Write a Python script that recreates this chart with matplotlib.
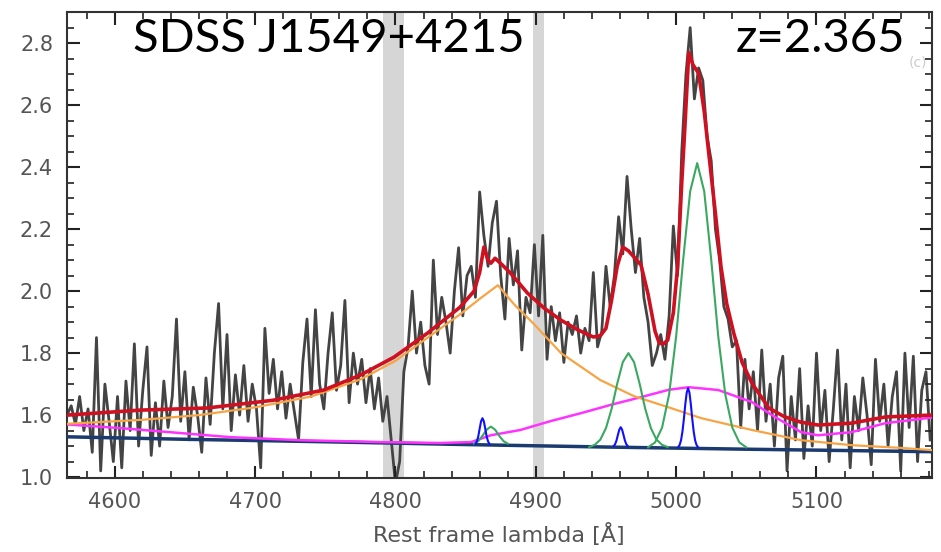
import matplotlib
matplotlib.use("Agg")
import matplotlib.pyplot as plt
import numpy as np
from matplotlib.ticker import MultipleLocator

# observed spectrum, 3 A grid from 4566 A
spec_start, spec_step = 4566, 3
spec_flux = [
    1.60, 1.63, 1.57, 1.66, 1.55, 1.62, 1.48, 1.85, 1.42, 1.70,
    1.58, 1.45, 1.66, 1.43, 1.71, 1.55, 1.83, 1.50, 1.68, 1.82,
    1.47, 1.64, 1.50, 1.71, 1.56, 1.66, 1.91, 1.58, 1.74, 1.52,
    1.69, 1.60, 1.48, 1.72, 1.57, 1.80, 1.96, 1.62, 1.86, 1.55,
    1.73, 1.60, 1.76, 1.58, 1.70, 1.62, 1.43, 1.88, 1.67, 1.78,
    1.62, 1.74, 1.59, 1.70, 1.61, 1.52, 1.77, 1.91, 1.66, 1.94,
    1.70, 1.62, 1.80, 1.93, 1.68, 1.76, 1.97, 1.64, 1.80, 1.70,
    1.78, 1.64, 1.75, 1.62, 1.72, 1.58, 1.66, 1.52, 1.38, 1.45,
    1.74, 1.82, 2.00, 1.80, 1.90, 1.76, 1.70, 2.10, 1.86, 1.98,
    1.90, 1.80, 2.00, 2.14, 1.92, 2.05, 2.08, 1.98, 2.32, 2.18,
    2.08, 2.22, 2.29, 2.05, 1.91, 2.17, 2.02, 2.13, 1.81, 1.98,
    1.93, 2.15, 1.92, 2.18, 1.78, 1.95, 1.84, 1.93, 1.77, 1.90,
    1.86, 1.92, 1.80, 1.88, 1.84, 2.06, 1.82, 1.87, 2.08, 1.95,
    2.05, 2.24, 2.12, 2.37, 2.20, 2.06, 2.17, 1.98, 1.90, 1.76,
    1.80, 1.86, 1.78, 1.92, 2.21, 2.05, 2.45, 2.70, 2.85, 2.62,
    2.72, 2.68, 2.50, 2.42, 2.20, 2.10, 1.95, 1.91, 1.82, 1.84,
    1.56, 1.78, 1.62, 1.74, 1.55, 1.81, 1.58, 1.70, 1.50, 1.72,
    1.79, 1.42, 1.66, 1.52, 1.75, 1.46, 1.63, 1.50, 1.80, 1.55,
    1.68, 1.45, 1.62, 1.81, 1.52, 1.70, 1.43, 1.66, 1.55, 1.72,
    1.60, 1.44, 1.78, 1.58, 1.70, 1.50, 1.66, 1.74, 1.42, 1.80,
    1.56, 1.79, 1.45, 1.68, 1.74, 1.52,
]
spec_lam = spec_start + spec_step * np.arange(len(spec_flux))

# total model (red)
red_lam = [4566, 4618, 4666, 4713, 4749, 4775, 4799, 4823, 4846, 4856, 4860, 4863,
           4866, 4868, 4871, 4876, 4882, 4894, 4906, 4918, 4930, 4941, 4946, 4950,
           4954, 4958, 4962, 4966, 4970, 4975, 4980, 4985, 4988, 4991, 4994, 4998,
           5001, 5004, 5006, 5009, 5012, 5016, 5020, 5023, 5028, 5032, 5036, 5041,
           5047, 5054, 5066, 5077, 5089, 5101, 5125, 5149, 5182]
red_flux = [1.600, 1.616, 1.623, 1.648, 1.681, 1.729, 1.787, 1.865, 1.948, 2.000, 2.060, 2.142,
            2.100, 2.090, 2.106, 2.085, 2.058, 1.994, 1.945, 1.906, 1.875, 1.852, 1.856, 1.880,
            1.971, 2.080, 2.142, 2.130, 2.110, 2.084, 1.990, 1.870, 1.832, 1.830, 1.842, 1.930,
            2.077, 2.350, 2.510, 2.770, 2.730, 2.703, 2.580, 2.455, 2.250, 2.077, 1.960, 1.865,
            1.770, 1.703, 1.623, 1.595, 1.577, 1.568, 1.574, 1.594, 1.600]

# broad Hbeta + continuum (orange)
orange_lam = [4566, 4620, 4660, 4700, 4740, 4775, 4800, 4823, 4846, 4860, 4873, 4885,
              4898, 4918, 4946, 4970, 4994, 5018, 5054, 5089, 5125, 5161, 5182]
orange_flux = [1.572, 1.585, 1.600, 1.625, 1.660, 1.715, 1.775, 1.850, 1.925, 1.975, 2.019, 1.955,
               1.897, 1.800, 1.713, 1.661, 1.626, 1.590, 1.552, 1.519, 1.503, 1.494, 1.487]

# magenta component
mag_lam = [4566, 4604, 4639, 4682, 4732, 4789, 4832, 4854, 4868, 4889, 4910, 4932,
           4955, 4975, 4995, 5009, 5030, 5054, 5070, 5089, 5101, 5125, 5149, 5182]
mag_flux = [1.570, 1.558, 1.545, 1.529, 1.519, 1.513, 1.510, 1.513, 1.535, 1.552, 1.580, 1.606,
            1.635, 1.658, 1.682, 1.690, 1.681, 1.642, 1.595, 1.545, 1.535, 1.545, 1.574, 1.592]

# power-law continuum (navy)
navy_lam = [4566, 4650, 4750, 4850, 4950, 5050, 5182]
navy_flux = [1.530, 1.522, 1.514, 1.505, 1.497, 1.490, 1.482]

# [OIII] and narrow Hbeta components (green)
g1_lam = [4856, 4859, 4862, 4865, 4868, 4871, 4874, 4877, 4880]
g1_flux = [1.508, 1.516, 1.533, 1.553, 1.563, 1.553, 1.533, 1.516, 1.508]
g2_lam = [4938, 4942, 4946, 4950, 4954, 4958, 4962, 4966, 4970, 4974, 4978, 4982, 4986, 4990, 4994]
g2_flux = [1.497, 1.504, 1.521, 1.558, 1.620, 1.701, 1.771, 1.800, 1.771, 1.701, 1.620, 1.558,
           1.521, 1.504, 1.497]
g3_lam = [4980, 4985, 4990, 4995, 5000, 5005, 5010, 5015, 5020, 5025, 5030, 5035, 5040, 5045, 5050]
g3_flux = [1.496, 1.512, 1.560, 1.667, 1.854, 2.101, 2.322, 2.413, 2.322, 2.101, 1.854, 1.667,
           1.560, 1.512, 1.496]

# narrow blue components
b1_lam = [4857, 4858, 4859, 4860, 4861, 4862, 4863, 4864, 4865, 4866, 4867]
b1_flux = [1.507, 1.515, 1.531, 1.556, 1.580, 1.590, 1.580, 1.556, 1.531, 1.515, 1.507]
b2_lam = [4955.5, 4956.5, 4957.5, 4958.5, 4959.5, 4960.5, 4961.5, 4962.5, 4963.5, 4964.5, 4965.5]
b2_flux = [1.500, 1.506, 1.518, 1.536, 1.553, 1.561, 1.553, 1.536, 1.518, 1.506, 1.500]
b3_lam = [5001.5, 5002.5, 5003.5, 5004.5, 5005.5, 5006.5, 5007.5, 5008.5, 5009.5, 5010.5,
          5011.5, 5012.5, 5013.5, 5014.5, 5015.5]
b3_flux = [1.497, 1.504, 1.519, 1.547, 1.587, 1.634, 1.672, 1.687, 1.672, 1.634,
           1.587, 1.547, 1.519, 1.504, 1.497]

# masked regions
bands = [(4791, 4806), (4898, 4906)]

ytick_vals = [1.4, 1.6, 1.8, 2.0, 2.2, 2.4, 2.6, 2.8]
ytick_text = ['1.0', '1.6', '1.8', '2.0', '2.2', '2.4', '2.6', '2.8']

fig = plt.figure(figsize=(9.41, 5.52), dpi=100)
ax = fig.add_axes([0.0712, 0.134, 0.9188, 0.844])

for lo, hi in bands:
    ax.axvspan(lo, hi, color='#d6d6d6', lw=0, zorder=0)

ax.plot(spec_lam, spec_flux, color='#444444', lw=2.0, zorder=1)
ax.plot(navy_lam, navy_flux, color='#1b3a6f', lw=2.5, zorder=3)
ax.plot(mag_lam, mag_flux, color='#ff33ff', lw=1.8, zorder=3)
ax.plot(orange_lam, orange_flux, color='#f7a445', lw=1.6, zorder=3)
for gl, gf in [(g1_lam, g1_flux), (g2_lam, g2_flux), (g3_lam, g3_flux)]:
    ax.plot(gl, gf, color='#3aa860', lw=1.5, zorder=4)
for bl, bf in [(b1_lam, b1_flux), (b2_lam, b2_flux), (b3_lam, b3_flux)]:
    ax.plot(bl, bf, color='#1010ff', lw=1.5, zorder=4)
ax.plot(red_lam, red_flux, color='#cf1020', lw=2.6, zorder=5)

ax.set_xlim(4566, 5182)
ax.set_ylim(1.397, 2.9)
ax.xaxis.set_major_locator(MultipleLocator(100))
ax.xaxis.set_minor_locator(MultipleLocator(20))
ax.set_yticks(ytick_vals)
ax.set_yticklabels(ytick_text)
ax.yaxis.set_minor_locator(MultipleLocator(0.05))
ax.tick_params(which='both', direction='in', top=True, right=True, colors='#222222',
               labelcolor='#555555', labelsize=15)
ax.tick_params(which='major', length=9, width=1.5, pad=10)
ax.tick_params(which='minor', length=5, width=1.2)
for s in ax.spines.values():
    s.set_color('#333333')
    s.set_linewidth(1.5)

ax.set_xlabel('Rest frame lambda [Å]', fontsize=16, color='#555555', labelpad=8)

fig.text(133 / 941, 1 - 52 / 552, 'SDSS J1549+4215', fontsize=34, family='Lato',
         color='black', ha='left', va='baseline')
fig.text(905 / 941, 1 - 52 / 552, 'z=2.365', fontsize=34, family='Lato',
         color='black', ha='right', va='baseline')
fig.text(918 / 941, 1 - 66 / 552, '(c)', fontsize=10, color='#cccccc', ha='center', va='baseline')

fig.savefig('out.png', dpi=100)
